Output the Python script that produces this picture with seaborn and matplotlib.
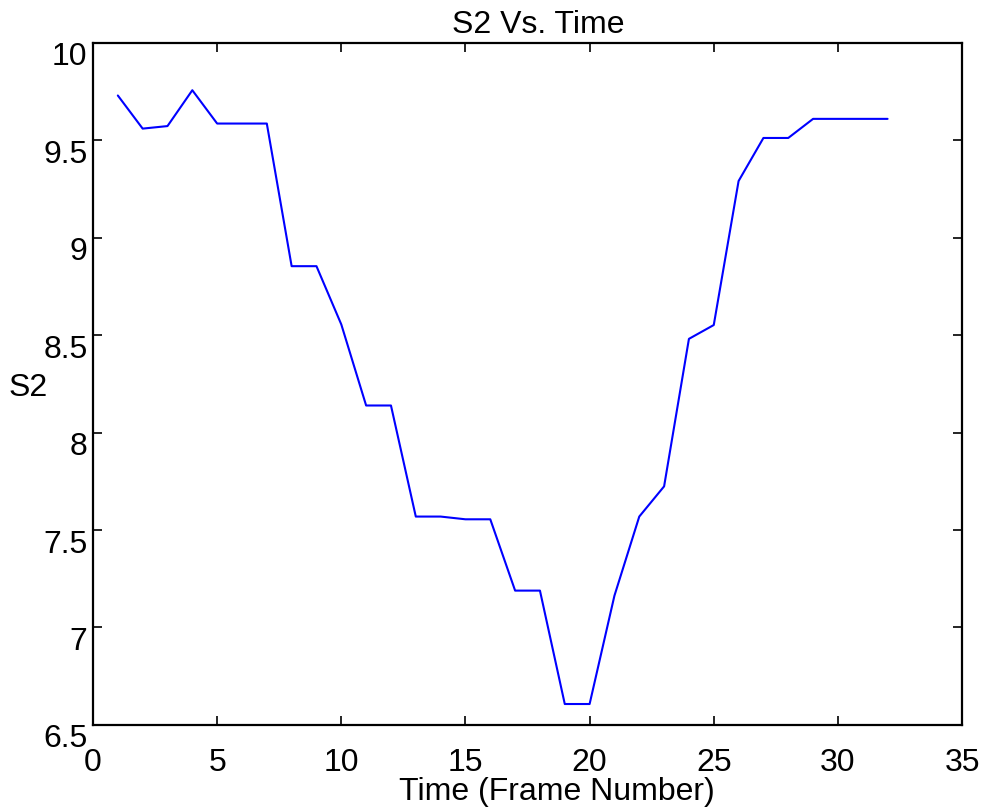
import pandas as pd
import seaborn as sns
import matplotlib
matplotlib.use("Agg")
import matplotlib.pyplot as plt
import matplotlib.transforms as mtransforms

# S2 values, one per frame
frames = list(range(1, 33))
s2_values = [9.73, 9.56, 9.573, 9.757, 9.586, 9.586, 9.586, 8.854, 8.854, 8.555,
             8.139, 8.139, 7.569, 7.569, 7.555, 7.555, 7.189, 7.189, 6.607, 6.607,
             7.163, 7.569, 7.724, 8.481, 8.552, 9.291, 9.512, 9.512, 9.61, 9.61,
             9.61, 9.61]
x_ticks = [0, 5, 10, 15, 20, 25, 30, 35]
y_ticks = [6.5, 7, 7.5, 8, 8.5, 9, 9.5, 10]

df = pd.DataFrame({"frame": frames, "S2": s2_values})

sns.set_style("ticks")
plt.rcParams['font.family'] = ['Liberation Sans', 'DejaVu Sans']
plt.rcParams['text.color'] = 'black'
plt.rcParams['axes.labelcolor'] = 'black'

fig = plt.figure(figsize=(9.82, 8.09), dpi=100)
ax = fig.add_axes([0.0947, 0.104, 0.885, 0.843])

sns.lineplot(data=df, x="frame", y="S2", color="#0000ff", linewidth=1.5, ax=ax)

ax.set_xlim(0, 35)
ax.set_ylim(6.5, 10)
ax.set_xticks(x_ticks)
ax.set_yticks(y_ticks)
ax.set_xticklabels([f"{t:g}" for t in x_ticks])
ax.set_yticklabels([f"{t:g}" for t in y_ticks])

for side in ["top", "right", "bottom", "left"]:
    ax.spines[side].set_visible(True)
    ax.spines[side].set_linewidth(1.6)
    ax.spines[side].set_color("black")

ax.tick_params(axis="both", which="major", direction="in", length=6.5, width=1.2,
               top=True, right=True, labelsize=23, colors="black")
ax.tick_params(axis="x", pad=17)
ax.tick_params(axis="y", pad=4)

# MATLAB puts the y labels a bit below their ticks
shift = mtransforms.ScaledTranslation(0, -11 / 100, fig.dpi_scale_trans)
for lab in ax.get_yticklabels():
    lab.set_transform(lab.get_transform() + shift)

ax.set_xlabel("Time (Frame Number)", fontsize=23, color="black")
ax.xaxis.set_label_coords(0.534, -0.110)
ax.xaxis.label.set_va("baseline")
ax.set_ylabel("S2", fontsize=23, rotation=0, ha="center", va="center", color="black")
ax.yaxis.set_label_coords(-0.0748, 0.494)
ax.text(0.512, 1.0147, "S2 Vs. Time", transform=ax.transAxes, ha="center",
        va="baseline", fontsize=23, color="black")

fig.savefig("out.png", dpi=100)
